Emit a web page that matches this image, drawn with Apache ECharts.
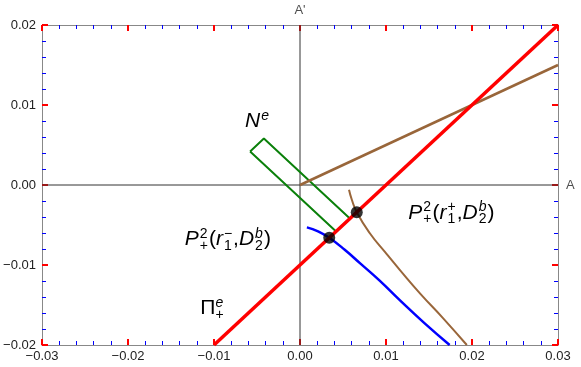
<!DOCTYPE html>
<html lang="en">
  <head>
    <meta charset="utf-8" />
    <title>Regions</title>
    <script src="https://cdn.jsdelivr.net/npm/echarts@6/dist/echarts.min.js"></script>
  </head>
  <body style="margin:0; background:#fff;">
    <div id="main" style="width: 581px; height: 367px;"></div>
    <script type="text/javascript">
      // data (A, A')
      const xRange = [-0.03, 0.03];
      const yRange = [-0.02, 0.02];
      const redLine = [[-0.01, -0.02], [0.03, 0.02]];
      const brownLine = [[0, 0], [0.03, 0.015]];
      const greenBox = [[-0.0058, 0.0042], [-0.0042, 0.0058], [0.0058, -0.0042], [0.0042, -0.0058], [-0.0058, 0.0042]];
      const blueCurve = [[0.0008, -0.0053], [0.0021, -0.0058], [0.0034, -0.0066], [0.0052, -0.0081], [0.0070, -0.0098],
                         [0.0092, -0.0119], [0.0116, -0.0144], [0.0145, -0.0173], [0.0174, -0.0200]];
      const brownCurve = [[0.0057, -0.0006], [0.0060, -0.00175], [0.0066, -0.0034], [0.0081, -0.0060], [0.0099, -0.0084],
                          [0.0116, -0.0106], [0.0140, -0.0136], [0.0166, -0.0166], [0.0194, -0.0200]];
      const dots = [[0.0034, -0.0066], [0.0066, -0.0034]];

      // labels: anchor = left end of the baseline, in data units
      const labels = [
        {at: [-0.0064, 0.0070], tokens: [{t: 'N', it: 1}, {sup: 'e', supIt: 1}]},
        {at: [-0.0134, -0.00775], tokens: [{t: 'P', it: 1}, {sup: '2', sub: '+'}, {t: '('}, {t: 'r', it: 1}, {sup: '−', sub: '1'},
                                          {t: ','}, {t: 'D', it: 1}, {sup: 'b', sub: '2', supIt: 1}, {t: ')'}]},
        {at: [0.0126, -0.0044], tokens: [{t: 'P', it: 1}, {sup: '2', sub: '+'}, {t: '('}, {t: 'r', it: 1}, {sup: '+', sub: '1'},
                                        {t: ','}, {t: 'D', it: 1}, {sup: 'b', sub: '2', supIt: 1}, {t: ')'}]},
        {at: [-0.0116, -0.01638], tokens: [{t: 'Π'}, {sup: 'e', sub: '+', supIt: 1}]}
      ];

      const FONT = '"Liberation Sans", Arial, sans-serif';
      const BASE = 21, SCRIPT = 14;
      const tickFmt = v => (Math.abs(v) < 1e-9 ? '0.00' : v.toFixed(2).replace('-', '−'));

      const myChart = echarts.init(document.getElementById('main'));

      // frame axis: line, inside major ticks and minor ticks
      const frameAxis = (extra) => Object.assign({
        type: 'value',
        interval: 0.01,
        axisLine: {show: true, onZero: false, lineStyle: {color: '#888'}},
        axisTick: {show: true, inside: true, length: 6, lineStyle: {color: '#f00', width: 2}},
        minorTick: {show: true, splitNumber: 5, length: 4, lineStyle: {color: '#00f', width: 1}},
        splitLine: {show: false},
        axisLabel: {show: false}
      }, extra);

      const lineSeries = (data, color, width, z) => ({
        type: 'line', data: data, symbol: 'none', z: z || 2,
        lineStyle: {color: color, width: width}
      });

      const option = {
        animation: false,
        grid: {left: 42, right: 23, top: 25, bottom: 22},
        xAxis: [
          frameAxis({min: xRange[0], max: xRange[1], position: 'bottom',
            axisLabel: {show: true, formatter: tickFmt, color: '#222', fontSize: 13, fontFamily: FONT, margin: 5}}),
          frameAxis({min: xRange[0], max: xRange[1], position: 'top'})
        ],
        yAxis: [
          frameAxis({min: yRange[0], max: yRange[1], position: 'left',
            axisLabel: {show: true, formatter: tickFmt, color: '#222', fontSize: 13, fontFamily: FONT, margin: 6}}),
          frameAxis({min: yRange[0], max: yRange[1], position: 'right'})
        ],
        series: [
          lineSeries([[xRange[0], 0], [xRange[1], 0]], '#333', 1, 1),
          lineSeries([[0, yRange[0]], [0, yRange[1]]], '#333', 1, 1),
          lineSeries(greenBox, '#0a800a', 2),
          lineSeries(brownLine, '#99663a', 2.5),
          Object.assign(lineSeries(blueCurve, '#0000ff', 2.5), {smooth: true}),
          Object.assign(lineSeries(brownCurve, '#99663a', 2), {smooth: true}),
          lineSeries(redLine, '#ff0000', 3.5, 3),
          {type: 'scatter', data: dots, symbolSize: 12, itemStyle: {color: '#000'}, z: 4},
          {
            type: 'scatter', symbolSize: 0, clip: false, silent: true,
            data: [
              {value: [xRange[1], 0], label: {show: true, position: 'right', distance: 8, formatter: 'A'}},
              {value: [0, yRange[1]], label: {show: true, position: 'top', distance: 8, formatter: "A'"}}
            ],
            label: {color: '#222', fontSize: 13, fontFamily: FONT}
          }
        ]
      };
      myChart.setOption(option);

      // math labels with stacked super/subscripts
      const ctx = document.createElement('canvas').getContext('2d');
      const measure = (s, size, it) => {
        ctx.font = (it ? 'italic ' : '') + size + 'px ' + FONT;
        return ctx.measureText(s).width;
      };
      const txt = (s, x, baseline, size, it) => ({
        type: 'text', x: x, y: baseline - 0.35 * size, silent: true,
        style: {text: s, fontSize: size, fontFamily: FONT, fontStyle: it ? 'italic' : 'normal',
                fill: '#000', verticalAlign: 'middle', align: 'left'}
      });

      const graphics = labels.map(lab => {
        const p = myChart.convertToPixel({gridIndex: 0}, lab.at);
        let x = p[0];
        const base = p[1];
        const children = [];
        for (const tk of lab.tokens) {
          if (tk.t) {
            children.push(txt(tk.t, x, base, BASE, tk.it));
            x += measure(tk.t, BASE, tk.it) + (tk.it ? 1 : 0);
          } else {
            let w = 0;
            if (tk.sup) {
              children.push(txt(tk.sup, x, base - 8, SCRIPT, tk.supIt));
              w = Math.max(w, measure(tk.sup, SCRIPT, tk.supIt));
            }
            if (tk.sub) {
              children.push(txt(tk.sub, x, base + 4, SCRIPT, false));
              w = Math.max(w, measure(tk.sub, SCRIPT, false));
            }
            x += w + 1;
          }
        }
        return {type: 'group', children: children};
      });
      myChart.setOption({graphic: graphics});
    </script>
  </body>
</html>
